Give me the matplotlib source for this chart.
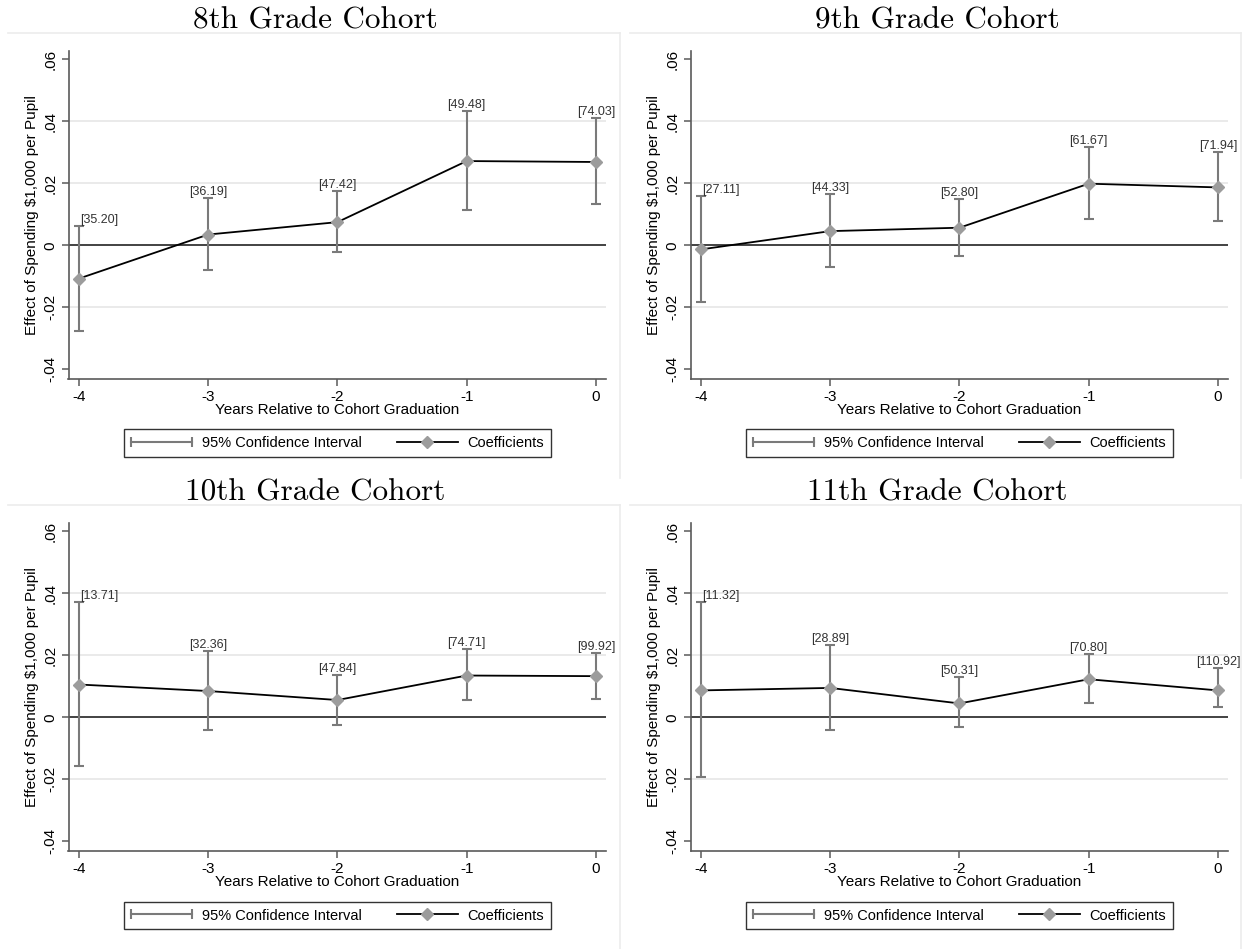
'''
    Event-study coefficients by grade cohort (4 panels)
'''
import numpy as np
import matplotlib
matplotlib.use('Agg')
import matplotlib.pyplot as plt
from matplotlib.lines import Line2D
from matplotlib.legend_handler import HandlerLine2D

# data
years = [-4, -3, -2, -1, 0]

titles = ['8th Grade Cohort', '9th Grade Cohort', '10th Grade Cohort', '11th Grade Cohort']

coef_8 = [-0.0107, 0.0035, 0.0075, 0.0272, 0.0269]
lo_8 = [-0.0276, -0.0079, -0.0021, 0.0113, 0.0134]
hi_8 = [0.0062, 0.0153, 0.0177, 0.0434, 0.0412]
lab_8 = ['[35.20]', '[36.19]', '[47.42]', '[49.48]', '[74.03]']

coef_9 = [-0.0013, 0.0046, 0.0057, 0.0199, 0.0187]
lo_9 = [-0.0184, -0.0069, -0.0034, 0.0084, 0.0079]
hi_9 = [0.0159, 0.0165, 0.0151, 0.0316, 0.0301]
lab_9 = ['[27.11]', '[44.33]', '[52.80]', '[61.67]', '[71.94]']

coef_10 = [0.0106, 0.0085, 0.0056, 0.0135, 0.0133]
lo_10 = [-0.0156, -0.0041, -0.0026, 0.0057, 0.0059]
hi_10 = [0.0371, 0.0213, 0.0138, 0.0221, 0.0209]
lab_10 = ['[13.71]', '[32.36]', '[47.84]', '[74.71]', '[99.92]']

coef_11 = [0.0087, 0.0095, 0.0045, 0.0123, 0.0087]
lo_11 = [-0.0192, -0.0041, -0.0030, 0.0047, 0.0035]
hi_11 = [0.0371, 0.0232, 0.0129, 0.0205, 0.0158]
lab_11 = ['[11.32]', '[28.89]', '[50.31]', '[70.80]', '[110.92]']

yticks = [-0.04, -0.02, 0, 0.02, 0.04, 0.06]
ytick_labels = ['-.04', '-.02', '0', '.02', '.04', '.06']

plt.rcParams['font.family'] = ['Liberation Sans', 'DejaVu Sans']

W, H = 1244, 949
fig = plt.figure(figsize=(W / 100, H / 100), dpi=100)

ci_col = '#7a7a7a'
pt_col = '#9c9c9c'
ax_col = '#5a5a5a'

panels = [
    (coef_8, lo_8, hi_8, lab_8),
    (coef_9, lo_9, hi_9, lab_9),
    (coef_10, lo_10, hi_10, lab_10),
    (coef_11, lo_11, hi_11, lab_11),
]

for k, (coef, lo, hi, labs) in enumerate(panels):
    col, row = k % 2, k // 2
    xoff = col * 622          # panel offset in pixels
    yoff = row * 472

    # faint panel border (top + right)
    top_y = 33 + yoff
    left_x = 8 + xoff if col == 0 else 630
    right_x = 620 if col == 0 else 1241
    bot_y = 478 if row == 0 else 949
    fig.add_artist(Line2D([left_x / W, right_x / W], [1 - top_y / H] * 2,
                          color='#ececec', lw=1.2))
    fig.add_artist(Line2D([right_x / W] * 2, [1 - top_y / H, 1 - bot_y / H],
                          color='#ececec', lw=1.2))

    # title in serif
    fig.text((315 + xoff) / W, 1 - (21 + yoff) / H, titles[k], ha='center', va='center',
             fontsize=22.5, family='cmr10')

    ax = fig.add_axes([(68.5 + xoff) / W, 1 - (379 + yoff) / H, 537 / W, 328 / H])

    coef = np.array(coef)
    lo = np.array(lo)
    hi = np.array(hi)

    for g in [-0.02, 0.02, 0.04]:
        ax.axhline(g, color='#e8e8e8', lw=1.3, zorder=0)
    ax.axhline(0, color='#222222', lw=1.2, zorder=1)

    ax.errorbar(years, coef, yerr=[coef - lo, hi - coef], fmt='none', ecolor=ci_col,
                elinewidth=1.5, capsize=3.5, capthick=1.5, zorder=2)
    ax.plot(years, coef, color='black', lw=1.3, marker='D', ms=6.5,
            mfc=pt_col, mec=pt_col, zorder=3)

    for i, (x, h, s) in enumerate(zip(years, hi, labs)):
        if i == 0:
            ax.text(x + 0.01, h, s, ha='left', va='bottom', fontsize=9, color='#333333')
        else:
            ax.text(x, h, s, ha='center', va='bottom', fontsize=9, color='#333333')

    ax.set_xlim(-4.081, 0.074)
    ax.set_ylim(-0.0431, 0.0627)
    ax.set_xticks(years)
    ax.set_xticklabels([str(y) for y in years])
    ax.set_yticks(yticks)
    ax.set_yticklabels(ytick_labels, rotation=90, va='center')

    for s in ['top', 'right']:
        ax.spines[s].set_visible(False)
    for s in ['left', 'bottom']:
        ax.spines[s].set_color(ax_col)
        ax.spines[s].set_linewidth(1.2)
    ax.tick_params(color=ax_col, length=5, width=1.1, labelsize=11, pad=3)

    ax.set_xlabel('Years Relative to Cohort Graduation', fontsize=11, labelpad=-1)
    ax.set_ylabel('Effect of Spending $1,000 per Pupil', fontsize=11, labelpad=3)

    # legend
    ci_handle = Line2D([], [], color=ci_col, lw=1.5, marker='|', ms=7, mew=1.5)
    coef_handle = Line2D([], [], color='black', lw=1.3, marker='D', ms=6.5, mfc=pt_col, mec=pt_col)
    leg_y = 443 if row == 0 else 915.5
    leg = ax.legend([ci_handle, coef_handle], ['95% Confidence Interval', 'Coefficients'],
                    ncol=2, loc='center',
                    bbox_to_anchor=((337.5 + xoff) / W, 1 - leg_y / H),
                    bbox_transform=fig.transFigure,
                    handler_map={ci_handle: HandlerLine2D(numpoints=2, marker_pad=0),
                                 coef_handle: HandlerLine2D(numpoints=1)},
                    fancybox=False, edgecolor='black', fontsize=10.5,
                    handlelength=4.2, handletextpad=0.65, columnspacing=2.4,
                    borderpad=0.45, borderaxespad=0)
    leg.get_frame().set_linewidth(1.0)

fig.savefig('out.png', dpi=100, facecolor='white')
